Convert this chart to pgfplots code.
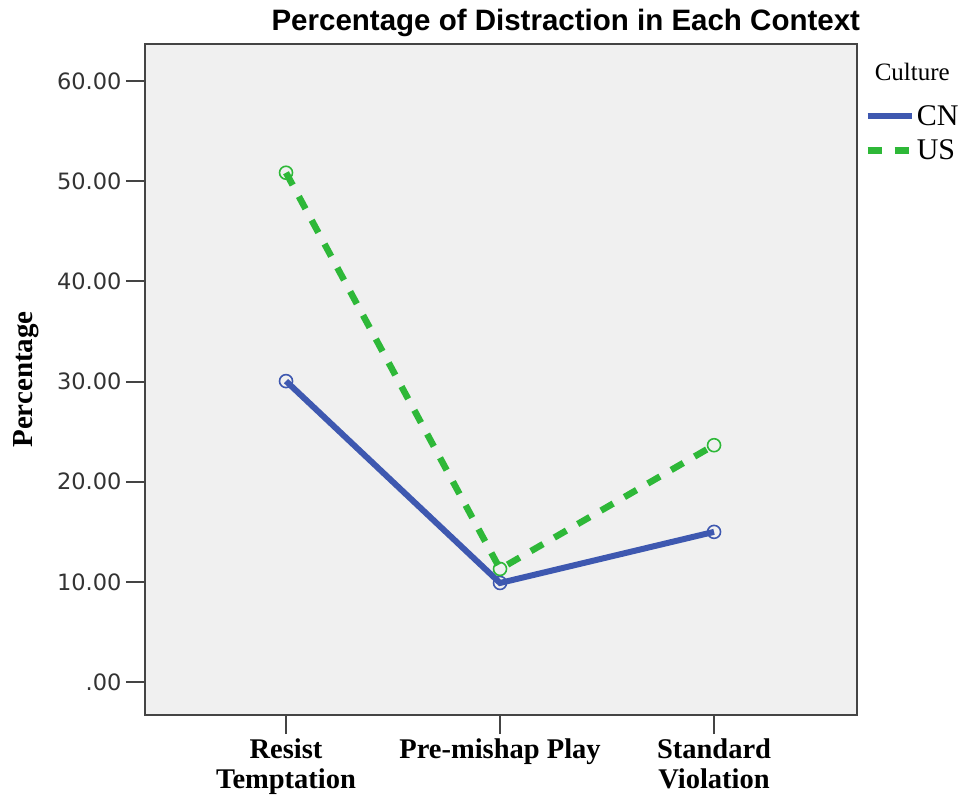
\documentclass[border=0pt]{standalone}
\usepackage{pgfplots}
\pgfplotsset{compat=1.18}
\usepackage{fontspec}
\setmainfont{Liberation Serif}
\newfontfamily\titlefont{Liberation Sans}
\newfontfamily\tickfont{DejaVu Sans}
\definecolor{cnblue}{RGB}{62,88,176}
\definecolor{usgreen}{RGB}{46,184,56}
\definecolor{bggray}{RGB}{240,240,240}
\definecolor{framegray}{RGB}{68,68,68}
\begin{document}
\begin{tikzpicture}
\path[use as bounding box] (0,0) rectangle (959pt,796pt);
\begin{axis}[
  at={(145pt,81pt)}, anchor=south west,
  scale only axis, width=712pt, height=671pt,
  xmin=0.341, xmax=3.668, ymin=-3.28, ymax=63.7,
  axis background/.style={fill=bggray},
  axis line style={draw=framegray, line width=2pt},
  xtick={1,2,3},
  xticklabels={{Resist\\Temptation},{Pre-mishap Play},{Standard\\Violation}},
  xticklabel style={font=\fontsize{28.5}{30}\selectfont\bfseries, align=center, anchor=north, yshift=-1pt},
  ytick={0,10,20,30,40,50,60},
  yticklabels={.00,10.00,20.00,30.00,40.00,50.00,60.00},
  yticklabel style={font=\tickfont\fontsize{22.5}{24}\selectfont\color{black!80}, xshift=-1pt},
  tick align=outside, major tick length=19pt,
  tick style={draw=framegray, line width=2pt},
  xtick pos=bottom, ytick pos=left,
  ylabel={Percentage},
  ylabel style={font=\fontsize{29}{31}\selectfont\bfseries, at={(axis description cs:-0.167,0.5)}, anchor=center},
  title={Percentage of Distraction in Each Context},
  title style={font=\titlefont\fontsize{29.5}{31}\selectfont\bfseries, at={(axis description cs:0.591,1)}, anchor=south, yshift=-2pt},
  legend style={at={(axis description cs:1.01,0.912)}, anchor=north west, draw=none, fill=none,
    font=\fontsize{30}{32}\selectfont, row sep=9pt, inner sep=0pt},
  legend cell align=left,
  legend image code/.code={\draw[#1, mark=none] (0pt,0pt) -- (44pt,0pt);},
  clip=false,
]
\addplot[cnblue, line width=6pt, mark=o, mark size=6.5pt, mark options={line width=1.6pt, solid, fill=none}] coordinates {(1,30.05) (2,9.9) (3,15.0)};
\addlegendentry{CN}
\addplot[usgreen, line width=6.5pt, dash pattern=on 14pt off 13pt, mark=o, mark size=6.5pt, mark options={line width=1.6pt, solid, fill=none}] coordinates {(1,50.85) (2,11.3) (3,23.65)};
\addlegendentry{US}
\node[anchor=west, font=\fontsize{25}{27}\selectfont] at (axis description cs:1.02,0.958) {Culture};
\end{axis}
\end{tikzpicture}
\end{document}
